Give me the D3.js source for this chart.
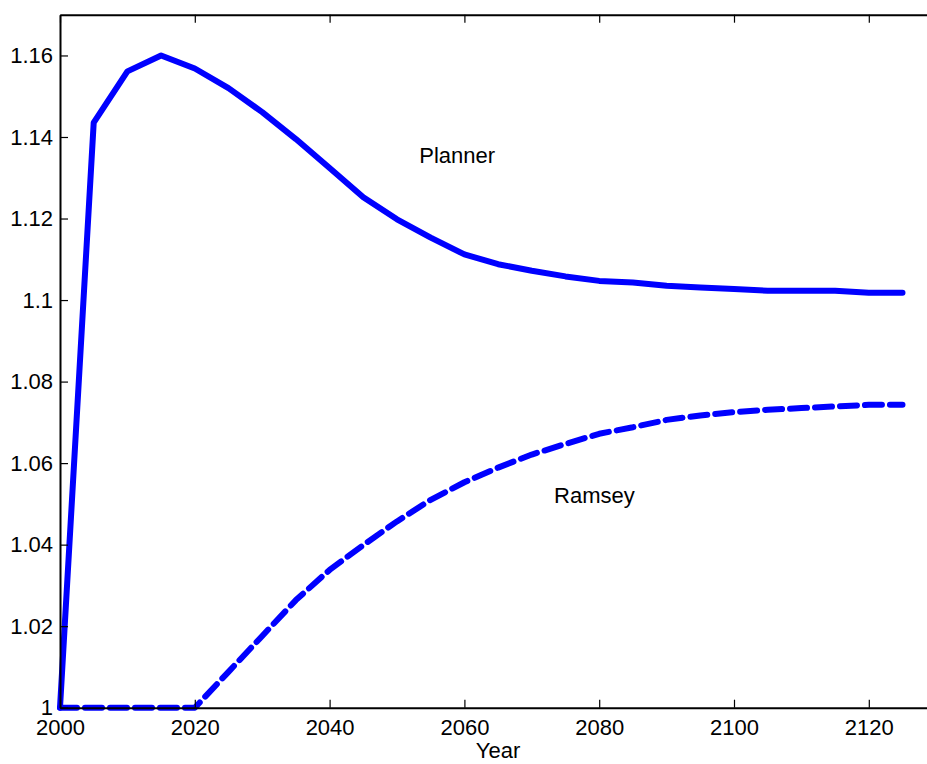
<!DOCTYPE html>
<html>
<head>
<meta charset="utf-8">
<script src="https://cdn.jsdelivr.net/npm/d3@7"></script>
<style>
  html, body { margin: 0; padding: 0; background: #fff; overflow: hidden; }
  svg { display: block; }
  text { font-family: "Liberation Sans", Arial, Helvetica, sans-serif; fill: #000; }
</style>
</head>
<body>
<svg id="chart" width="927" height="764"></svg>
<script>
// ---- data ----
const years = [2000, 2005, 2010, 2015, 2020, 2025, 2030, 2035, 2040, 2045, 2050, 2055, 2060,
               2065, 2070, 2075, 2080, 2085, 2090, 2095, 2100, 2105, 2110, 2115, 2120, 2125];
const planner = [1.0, 1.1435, 1.1561, 1.1600, 1.1568, 1.1520, 1.1461, 1.1395, 1.1324, 1.1252,
                 1.1198, 1.1153, 1.1112, 1.1088, 1.1072, 1.1058, 1.1047, 1.1043, 1.1035, 1.1031,
                 1.1027, 1.1023, 1.1023, 1.1023, 1.1018, 1.1018];
const ramsey = [1.0, 1.0, 1.0, 1.0, 1.0, 1.0088, 1.0176, 1.0264, 1.0338, 1.0399,
                1.0457, 1.0510, 1.0553, 1.0589, 1.0621, 1.0647, 1.0672, 1.0688, 1.0706, 1.0717,
                1.0725, 1.0731, 1.0735, 1.0739, 1.0743, 1.0743];
const xTicks = [2000, 2020, 2040, 2060, 2080, 2100, 2120];
const yTicks = [1, 1.02, 1.04, 1.06, 1.08, 1.1, 1.12, 1.14, 1.16];
const xDomain = [2000, 2130];
const yDomain = [1, 1.17];
const labels = [
  {text: "Planner", x: 2053.3, y: 1.1336},
  {text: "Ramsey", x: 2073.3, y: 1.0502}
];

(function () {
  const svg = d3.select("#chart");
  const mLeft = 60, mRight = 936.2, mTop = 14.7, mBottom = 707.7;
  const x = d3.scaleLinear().domain(xDomain).range([mLeft, mRight]);
  const y = d3.scaleLinear().domain(yDomain).range([mBottom, mTop]);
  const fs = 22;
  const tickLen = 8;
  const ff = "Liberation Sans, Arial, sans-serif";

  const lineGen = d3.line().x((d, i) => x(years[i])).y(d => y(d));

  svg.append("path").datum(planner)
    .attr("d", lineGen)
    .attr("fill", "none").attr("stroke", "#0000ff").attr("stroke-width", 6)
    .attr("stroke-linejoin", "round").attr("stroke-linecap", "round");

  svg.append("path").datum(ramsey)
    .attr("d", lineGen)
    .attr("fill", "none").attr("stroke", "#0000ff").attr("stroke-width", 6)
    .attr("stroke-dasharray", "17,8")
    .attr("stroke-linejoin", "round").attr("stroke-linecap", "round");

  const axisG = svg.append("g");
  // bottom
  axisG.append("g").attr("transform", `translate(0,${mBottom})`)
    .call(d3.axisBottom(x).tickValues(xTicks).tickSizeInner(-tickLen).tickSizeOuter(0).tickFormat(d3.format("d")))
    .call(g => g.select(".domain").attr("stroke-width", 2))
    .call(g => g.selectAll(".tick line").attr("stroke-width", 1.2))
    .call(g => g.selectAll("text").attr("font-size", fs).attr("font-family", ff).attr("dy", "0.71em").attr("y", 12));
  // top
  axisG.append("g").attr("transform", `translate(0,${mTop})`)
    .call(d3.axisTop(x).tickValues(xTicks).tickSizeInner(-tickLen).tickSizeOuter(0).tickFormat(""))
    .call(g => g.select(".domain").attr("stroke-width", 2))
    .call(g => g.selectAll(".tick line").attr("stroke-width", 1.2));
  // left
  axisG.append("g").attr("transform", `translate(${mLeft},0)`)
    .call(d3.axisLeft(y).tickValues(yTicks).tickSizeInner(-tickLen).tickSizeOuter(0).tickFormat(d => String(+d.toFixed(2))))
    .call(g => g.select(".domain").attr("stroke-width", 2))
    .call(g => g.selectAll(".tick line").attr("stroke-width", 1.2))
    .call(g => g.selectAll("text").attr("font-size", fs).attr("font-family", ff).attr("x", -7));
  // right
  axisG.append("g").attr("transform", `translate(${mRight},0)`)
    .call(d3.axisRight(y).tickValues(yTicks).tickSizeInner(-tickLen).tickSizeOuter(0).tickFormat(""))
    .call(g => g.select(".domain").attr("stroke-width", 2))
    .call(g => g.selectAll(".tick line").attr("stroke-width", 1.2));

  svg.append("text").attr("x", x(2065)).attr("y", 758)
    .attr("text-anchor", "middle").attr("font-size", fs).text("Year");

  labels.forEach(l => {
    svg.append("text").attr("x", x(l.x)).attr("y", y(l.y))
      .attr("font-size", fs).text(l.text);
  });
})();
</script>
</body>
</html>
